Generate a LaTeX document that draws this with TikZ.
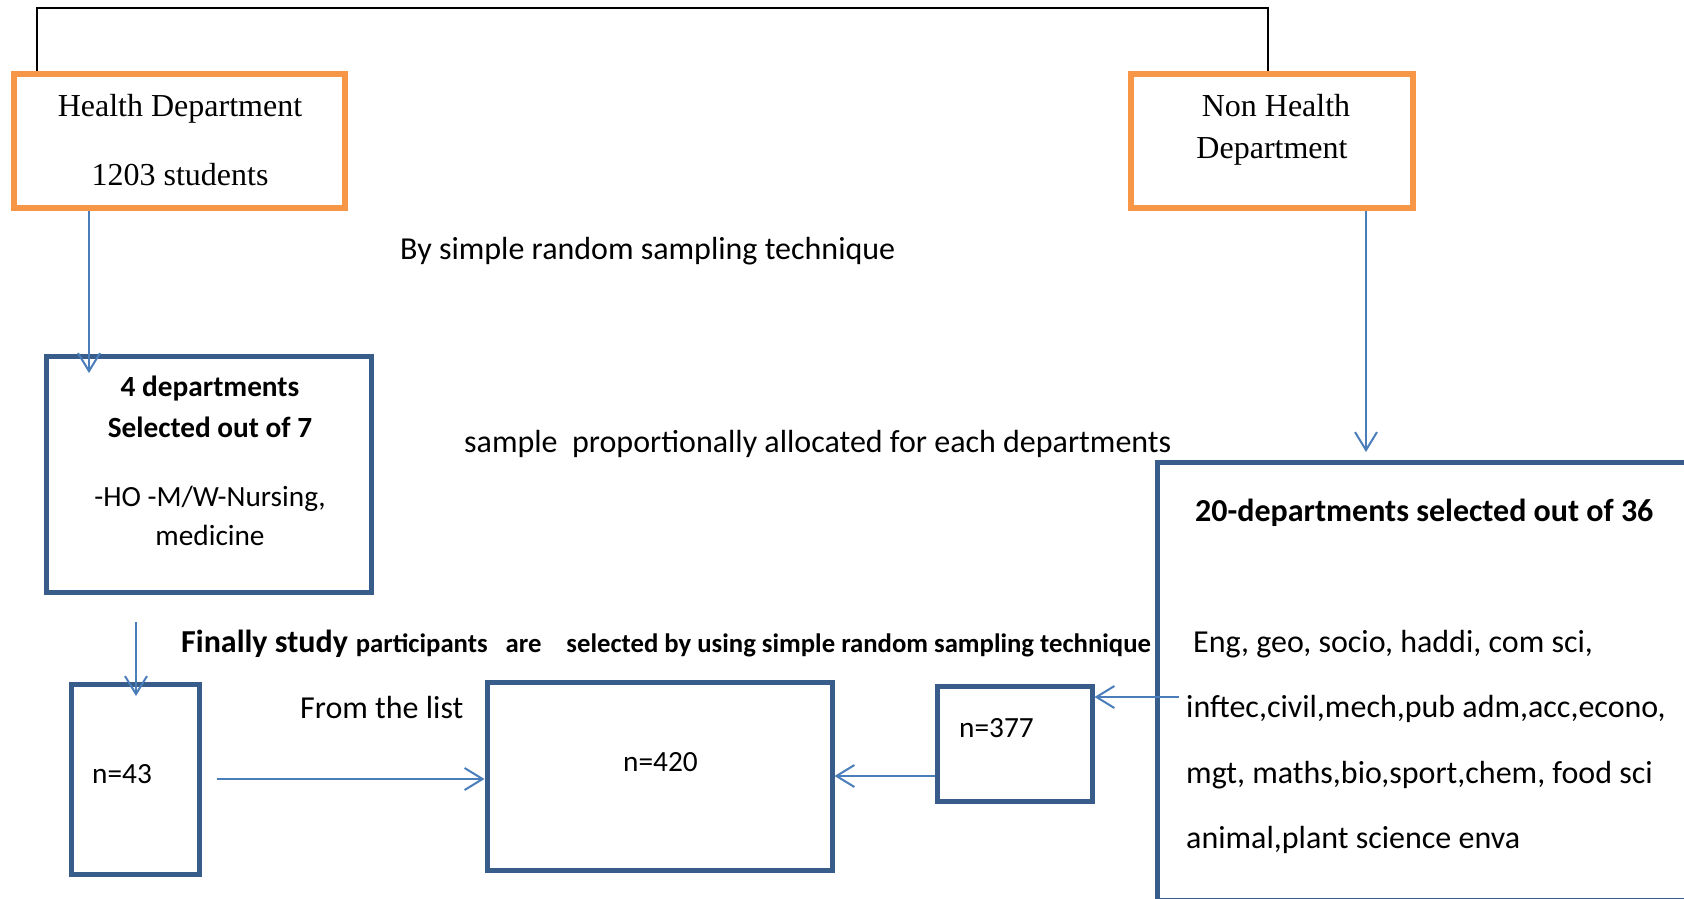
\documentclass[tikz,border=0pt]{standalone}
\usepackage{fontspec}
\setmainfont{Liberation Serif}
\newfontfamily\calibri{Carlito}
\usetikzlibrary{arrows.meta,calc}
\definecolor{deptorange}{HTML}{F79646}
\definecolor{boxblue}{HTML}{385D8A}
\definecolor{linkblue}{HTML}{4A7EBB}

\begin{document}
\begin{tikzpicture}[x=1pt,y=-1pt,
  deptbox/.style={draw=deptorange, line width=6.3pt, rectangle, inner sep=0pt},
  stagebox/.style={draw=boxblue, line width=5pt, rectangle, inner sep=0pt},
  link/.style={draw=linkblue, line width=2pt,
    -{Straight Barb[length=18pt,width=22pt,line width=2pt]}},
  bracket/.style={draw=black, line width=2pt},
  txt/.style={anchor=base, inner sep=0pt},
  serif/.style={txt, font=\fontsize{32}{38}\selectfont},
  big/.style={txt, font=\calibri\fontsize{32}{38}\selectfont},
  bigbold/.style={txt, font=\calibri\bfseries\fontsize{32}{38}\selectfont},
  mid/.style={txt, font=\calibri\fontsize{29.3}{35}\selectfont},
  midbold/.style={txt, font=\calibri\bfseries\fontsize{29.3}{35}\selectfont},
]
\useasboundingbox (0,0) rectangle (1684,898);
\fill[white] (0,0) rectangle (1684,898);

% boxes
\node[deptbox, minimum width=331pt, minimum height=134pt] (hd) at (179.5,141) {};
\node[deptbox, minimum width=282pt, minimum height=134pt] (nhd) at (1272,141) {};
\node[stagebox, minimum width=325pt, minimum height=236pt] (d4) at (209,474.5) {};
\begin{scope}
  \clip (0,0) rectangle (1684,898);
  \node[stagebox, minimum width=543pt, minimum height=438pt] (d20) at (1428.5,681) {};
\end{scope}
\node[stagebox, minimum width=128pt, minimum height=190pt] (n43) at (135,779) {};
\node[stagebox, minimum width=345pt, minimum height=188pt] (n420) at (659.5,776) {};
\node[stagebox, minimum width=155pt, minimum height=115pt] (n377) at (1014.5,743.5) {};

% box texts
\node[serif] (hdname) at (180,116) {Health Department};
\node[serif] (hdcount) at (180,185) {1203 students};
\node[serif] (nhdname) at (1276,116) {Non Health};
\node[serif] (nhdword) at (1272,158) {Department};

\node[midbold] (d4a) at (210,396) {4 departments};
\node[midbold] (d4b) at (210,437) {Selected out of 7};
\node[mid] (d4c) at (210,506) {-HO -M/W-Nursing,};
\node[mid] (d4d) at (210,545) {medicine};

\node[bigbold, anchor=base west] (d20title) at (1195,521) {20-departments selected out of 36};
\node[big, anchor=base west] (d20a) at (1193,652) {Eng, geo, socio, haddi, com sci,};
\node[big, anchor=base west] (d20b) at (1186,717) {inftec,civil,mech,pub adm,acc,econo,};
\node[big, anchor=base west] (d20c) at (1186,783) {mgt, maths,bio,sport,chem, food sci};
\node[big, anchor=base west] (d20d) at (1186,848) {animal,plant science enva};

\node[mid, anchor=base west] (n43t) at (92,783) {n=43};
\node[mid, anchor=base west] (n420t) at (623,771) {n=420};
\node[mid, anchor=base west] (n377t) at (959,737) {n=377};

% free texts
\node[big, anchor=base west] (step1) at (400,259) {By simple random sampling technique};
\node[big, anchor=base west] (step2) at (464,452) {sample\ \ proportionally allocated for each departments};
\node[txt, anchor=base west, font=\calibri\bfseries] (step3) at (181,652)
  {{\fontsize{32}{38}\selectfont Finally study}\hspace{8pt}{\fontsize{26.7}{32}\selectfont
   participants\hspace{18pt}are\hspace{25pt}selected by using simple random sampling technique}};
\node[big, anchor=base west] (fromlist) at (300,718) {From the list};

% connectors
\coordinate (bartop) at (0,8);
\coordinate (bl) at ($(hd.north west)+(26,0)$);
\coordinate (br) at ($(nhd.north)+(-4,0)$);
\draw[bracket] (bl) -- (bl |- bartop) -| (br);

\coordinate (hdx) at (89,0);
\draw[link] (hd.south -| hdx) -- ($(d4.north -| hdx)+(0,19)$);

\coordinate (nhdx) at (1366,0);
\draw[link] (nhd.south -| nhdx) -- ($(d20.north -| nhdx)+(0,-7.5)$);

\coordinate (d4out) at (136,622);
\draw[link] (d4out) -- ($(n43.north -| d4out)+(0,14.5)$);

\draw[link] ($(n43.east)+(15,0)$) -- (n43.east -| n420.west);
\draw[link] (n377.west |- n420.east) -- (n420.east);

\coordinate (d20out) at (1179,697);
\draw[link] (d20out) -- (d20out -| n377.east);
\end{tikzpicture}
\end{document}
